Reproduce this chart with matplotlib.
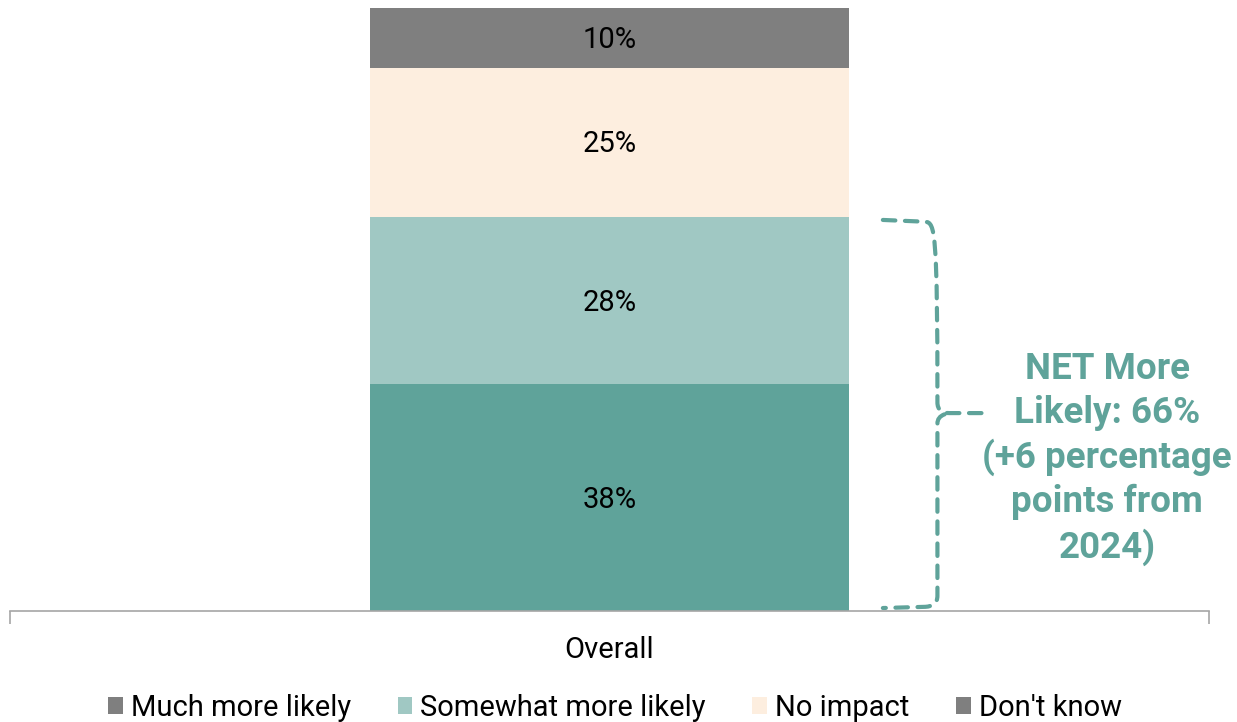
import matplotlib
matplotlib.use("Agg")
import matplotlib.pyplot as plt
from matplotlib.patches import Patch, PathPatch
from matplotlib.path import Path
import matplotlib.transforms as mtransforms

plt.rcParams['font.family'] = ['Roboto', 'DejaVu Sans']

categories = ["Overall"]
series_names = ["Much more likely", "Somewhat more likely", "No impact", "Don't know"]
values = [[38], [28], [25], [10]]
colors = ["#5FA39A", "#A0C8C3", "#FDEEDF", "#7F7F7F"]
legend_colors = ["#7F7F7F", "#A0C8C3", "#FDEEDF", "#7F7F7F"]
net_value = 66
note = "NET More\nLikely: 66%\n(+6 percentage\npoints from\n2024)"

W, H = 1237, 722
fig = plt.figure(figsize=(W / 100, H / 100), dpi=100)
ax = fig.add_axes([10 / W, (H - 611) / H, 1199 / W, 603 / H])

x = list(range(len(categories)))
bottom = [0] * len(categories)
for name, vals, col in zip(series_names, values, colors):
    ax.bar(x, vals, bottom=bottom, width=0.4, color=col, label=name)
    for xi, v, b in zip(x, vals, bottom):
        ax.text(xi, b + v / 2 - 0.35, f"{v}%", ha='center', va='center', fontsize=21, color='black')
    bottom = [b + v for b, v in zip(bottom, vals)]

ax.set_xlim(-0.5, len(categories) - 0.5)
ax.set_ylim(0, 101)
for s in ['top', 'right', 'left']:
    ax.spines[s].set_visible(False)
ax.spines['bottom'].set_color('#A6A6A6')
ax.spines['bottom'].set_linewidth(1.2)
ax.set_yticks([])
ax.set_xticks(x)
ax.set_xticklabels(categories, fontsize=21)
ax.tick_params(axis='x', which='major', length=0, pad=18)
ax.set_xticks([-0.5, len(categories) - 0.5], minor=True)
ax.tick_params(axis='x', which='minor', length=9, color='#A6A6A6', width=1.2)

# curly brace (x in axes fraction, y in data)
trans = mtransforms.blended_transform_factory(ax.transAxes, ax.transData)
x0, xv, xt = 0.728, 0.7735, 0.814
top, bot = net_value - 0.5, 0.8
mid = (top + bot) / 2
rx, ry = 0.010, 1.8
verts = [
    (x0, top), (xv - rx, top - 0.3), (xv - 0.002, top - 0.5), (xv, top - ry),
    (xv, mid + ry),
    (xv, mid + 0.5), (xv + 0.004, mid), (xv + rx, mid),
    (xt, mid),
]
codes = [Path.MOVETO, Path.LINETO, Path.CURVE4, Path.CURVE4,
         Path.LINETO,
         Path.CURVE4, Path.CURVE4, Path.CURVE4,
         Path.LINETO]
verts2 = [
    (xv + rx * 0.6, mid - 0.2), (xv + 0.002, mid - 0.5), (xv, mid - 1.0), (xv, mid - ry),
    (xv, bot + ry),
    (xv, bot + 0.4), (xv - 0.004, bot), (xv - rx, bot - 0.1),
    (x0, bot - 0.3),
]
codes2 = [Path.MOVETO, Path.CURVE4, Path.CURVE4, Path.CURVE4,
          Path.LINETO,
          Path.CURVE4, Path.CURVE4, Path.CURVE4,
          Path.LINETO]
for vv, cc in [(verts, codes), (verts2, codes2)]:
    pp = PathPatch(Path(vv, cc), transform=trans, fill=False, edgecolor="#5FA39A",
                   linewidth=3.0, linestyle=(0, (3.0, 2.3)), capstyle='round',
                   clip_on=False)
    ax.add_patch(pp)

ax.text(0.915, mid - 7.6, note, transform=trans, ha='center', va='center',
        fontsize=26.5, fontweight='bold', color="#5FA39A", linespacing=1.27,
        clip_on=False)

handles = [Patch(facecolor=c, edgecolor='none', label=n) for n, c in zip(series_names, legend_colors)]
fig.legend(handles=handles, loc='center', bbox_to_anchor=(615 / W, 1 - 708 / H), ncol=4,
           frameon=False, fontsize=21, handlelength=0.5, handleheight=0.5,
           handletextpad=0.28, columnspacing=1.6, borderaxespad=0, borderpad=0)

fig.savefig("out.png", dpi=100)
